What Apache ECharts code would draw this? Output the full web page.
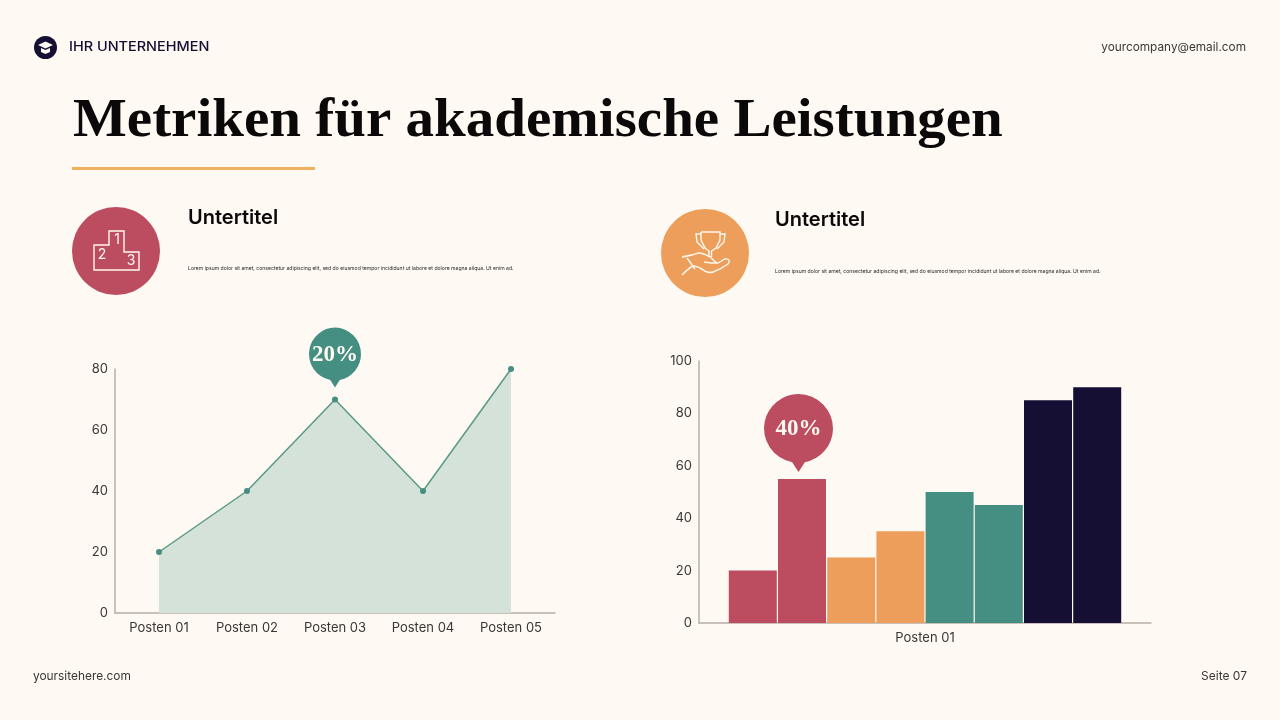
<!DOCTYPE html>
<html><head><meta charset="utf-8">
<style>html,body{margin:0;padding:0;background:#FFF9F3}#c{width:1280px;height:720px}</style>
<script src="https://cdn.jsdelivr.net/npm/echarts@6/dist/echarts.min.js"></script>
</head><body><div id="c"></div>
<script>
const lineCategories = ['Posten 01','Posten 02','Posten 03','Posten 04','Posten 05'];
const lineValues = [20,40,70,40,80];
const barCategories = ['Posten 01'];
const barValues = [20,55,25,35,50,45,85,90];
const barColors = ['#BC4C5F','#BC4C5F','#EC9E5A','#EC9E5A','#458E82','#458E82','#150F33','#150F33'];
const title = 'Metriken für akademische Leistungen';
const subtitle = 'Untertitel';
const lorem = 'Lorem ipsum dolor sit amet, consectetur adipiscing elit, sed do eiusmod tempor incididunt ut labore et dolore magna aliqua. Ut enim ad.';
const lineBadge = '20%';
const barBadge = '40%';

const SANS = 'Inter', SERIF = 'Liberation Serif', INK = '#3A3635', AXIS = '#B8AEA6';
const PIN = 'path://M50 0A50 50 0 0 1 59 99L50 113L41 99A50 50 0 0 1 50 0Z';
const T = (x,y,text,font,fill,extra,scaleX) => ({type:'text',x,y,scaleX:scaleX||1,silent:true,z:20,
  style:Object.assign({text,font,fill,textVerticalAlign:'middle'},extra||{})});
const PL = (points,smooth,closed) => ({type:closed?'polygon':'polyline',silent:true,z:20,
  shape:{points,smooth:smooth||0},style:{stroke:'#FFF8F0',lineWidth:1.4,fill:null}});

const axisName = {fontFamily:SANS,fontSize:13,color:INK};
const graphics = [
  {type:'circle',shape:{cx:45.5,cy:47.5,r:11.5},style:{fill:'#150F33'},silent:true,z:20},
  {type:'polygon',shape:{points:[[38,45],[45.5,41.5],[53,45],[45.5,48.5]]},style:{fill:'#FFF9F3'},silent:true,z:21},
  {type:'polygon',shape:{points:[[41,48],[45.5,50],[50,48],[50,52],[45.5,54],[41,52]]},style:{fill:'#FFF9F3'},silent:true,z:21},
  T(69,47,'IHR UNTERNEHMEN','500 12.5px '+SANS,'#150F33',null,1.157),
  T(1246,47,'yourcompany@email.com','400 11.8px '+SANS,INK,{textAlign:'right'}),
  T(73,122,title,'700 54px '+SERIF,'#0A0808',null,1.056),
  {type:'rect',shape:{x:72,y:167,width:243,height:3},style:{fill:'#EFB05F'},silent:true,z:20},
  {type:'circle',shape:{cx:116,cy:251,r:44},style:{fill:'#BC4C5F'},silent:true,z:20},
  PL([[94,245],[109,245],[109,231],[124,231],[124,252],[139,252],[139,270],[94,270]],0,true),
  T(117,240,'1','400 14px '+SANS,'#FFF8F0',{textAlign:'center'}),
  T(102,255,'2','400 14px '+SANS,'#FFF8F0',{textAlign:'center'}),
  T(131,261,'3','400 14px '+SANS,'#FFF8F0',{textAlign:'center'}),
  T(188,218,subtitle,'600 20px '+SANS,'#0A0808'),
  T(188,268.5,lorem,'400 5.1px '+SANS,'#2A2628'),
  {type:'circle',shape:{cx:705,cy:253,r:44},style:{fill:'#EC9E5A'},silent:true,z:20},
  PL([[701,232],[720,232],[720,240],[716,248],[711.5,251],[711.5,257]]),
  PL([[701,232],[701,240],[705,248],[709,251],[709,257]]),
  PL([[701,234],[696,234],[697,242],[704,249]]),
  PL([[720,234],[725,234],[724,242],[717,249]]),
  PL([[682,257],[692,255],[700,253],[710,257],[717,263],[725,259],[729,260],[728,264],[713,272],[707,272],[700,268],[693,266],[682,275]],0.3),
  PL([[704,262],[711,263],[717,263]]),
  PL([[687,258],[695,269]]),
  T(775,220,subtitle,'600 20px '+SANS,'#0A0808'),
  T(775,271.5,lorem,'400 5.1px '+SANS,'#2A2628'),
  T(33,676,'yoursitehere.com','400 11.9px '+SANS,INK),
  T(1247,676,'Seite 07','400 12px '+SANS,INK,{textAlign:'right'})
];

const badgeLabel = (text,dy) => ({show:true,position:'inside',offset:[0,dy],formatter:text,
  fontFamily:SERIF,fontWeight:'bold',fontSize:23,color:'#FFF9F3'});

const chart = echarts.init(document.getElementById('c'),null,{renderer:'canvas'});
chart.setOption({
  animation:false,
  backgroundColor:'#FFF9F3',
  graphic:graphics,
  grid:[
    {left:115,width:440,top:369,height:244},
    {left:699,width:452,top:361,height:262}
  ],
  xAxis:[
    {type:'category',gridIndex:0,data:lineCategories,axisTick:{show:false},
     axisLine:{lineStyle:{color:AXIS,width:1.5}},axisLabel:Object.assign({margin:9},axisName)},
    {type:'category',gridIndex:1,data:barCategories,axisTick:{show:false},
     axisLine:{lineStyle:{color:AXIS,width:1.5}},axisLabel:Object.assign({margin:9},axisName)}
  ],
  yAxis:[
    {type:'value',gridIndex:0,min:0,max:80,interval:20,splitLine:{show:false},axisTick:{show:false},
     axisLine:{show:true,lineStyle:{color:AXIS,width:1.5}},
     axisLabel:Object.assign({margin:7,verticalAlign:'middle',lineHeight:13,padding:[0,0,5,0]},axisName)},
    {type:'value',gridIndex:1,min:0,max:100,interval:20,splitLine:{show:false},axisTick:{show:false},
     axisLine:{show:true,lineStyle:{color:AXIS,width:1.5}},
     axisLabel:Object.assign({margin:7,verticalAlign:'middle',lineHeight:13,padding:[0,0,5,0]},axisName)}
  ],
  series:[
    {type:'line',xAxisIndex:0,yAxisIndex:0,data:lineValues,symbol:'circle',symbolSize:6,
     itemStyle:{color:'#458E82'},lineStyle:{color:'#5B9A82',width:1.5},
     areaStyle:{color:'#D4E2D9',opacity:1},z:3,
     markPoint:{silent:true,symbol:PIN,symbolSize:[52,60],symbolOffset:[0,-42],
       itemStyle:{color:'#458E82'},label:badgeLabel(lineBadge,-2),
       data:[{name:'badge',xAxis:lineCategories[2],yAxis:lineValues[2]}]}}
  ].concat(barValues.map((v,i)=>({
    type:'bar',xAxisIndex:1,yAxisIndex:1,data:[v],barWidth:48,barGap:'2.5%',
    itemStyle:{color:barColors[i]},
    markPoint:i===1?{silent:true,symbol:PIN,symbolSize:[69,78],symbolOffset:[-3.5,-46],
      itemStyle:{color:barColors[i]},label:badgeLabel(barBadge,-4),
      data:[{type:'max',name:'badge'}]}:undefined
  })))
});
</script></body></html>
